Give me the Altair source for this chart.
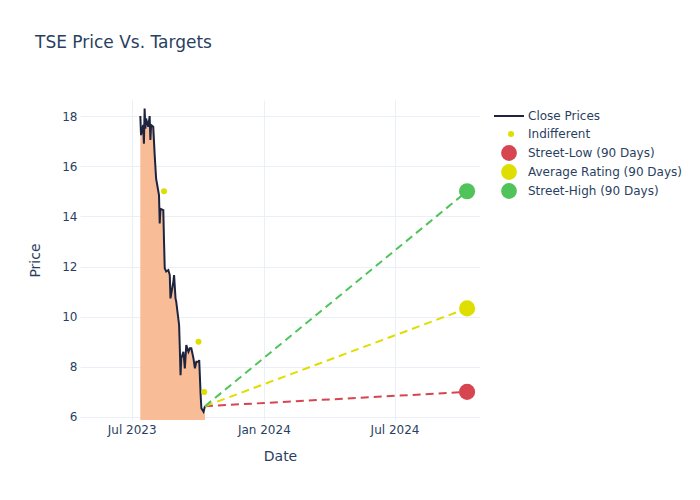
import altair as alt
import pandas as pd

# ---- data ----
close_dates = ["2023-07-13", "2023-07-14", "2023-07-17", "2023-07-18", "2023-07-19", "2023-07-20",
               "2023-07-21", "2023-07-24", "2023-07-26", "2023-07-27", "2023-07-28", "2023-07-31",
               "2023-08-02", "2023-08-04", "2023-08-08", "2023-08-09", "2023-08-10", "2023-08-14",
               "2023-08-15", "2023-08-16", "2023-08-18", "2023-08-21", "2023-08-23", "2023-08-24",
               "2023-08-28", "2023-08-29", "2023-08-31", "2023-09-01", "2023-09-05", "2023-09-06",
               "2023-09-07", "2023-09-08", "2023-09-11", "2023-09-13", "2023-09-15", "2023-09-18",
               "2023-09-20", "2023-09-22", "2023-09-25", "2023-09-27", "2023-09-29", "2023-10-02",
               "2023-10-03", "2023-10-05", "2023-10-06", "2023-10-09", "2023-10-11"]
close_prices = [18.0, 17.24, 17.64, 16.9, 18.3, 17.5, 17.9, 17.57, 18.0, 17.05, 17.64, 17.57,
                16.45, 15.5, 14.85, 13.72, 14.3, 14.25, 13.0, 11.93, 11.8, 11.86, 11.66, 10.73,
                11.4, 11.66, 10.73, 10.6, 9.67, 8.74, 7.67, 8.34, 8.6, 7.94, 8.87, 8.6,
                8.74, 8.74, 8.34, 7.94, 8.2, 8.2, 8.27, 6.88, 6.35, 6.21, 6.43]

rating_dates = ["2023-08-15", "2023-10-02", "2023-10-10"]
rating_prices = [15.0, 9.0, 7.0]
rating_label = "Indifferent"

target_labels = ["Street-Low (90 Days)", "Average Rating (90 Days)", "Street-High (90 Days)"]
target_values = [7.0, 10.33, 15.0]
target_date = "2024-10-10"

# ---- tables ----
close_df = pd.DataFrame({"date": close_dates, "price": close_prices, "series": "Close Prices"})
rating_df = pd.DataFrame({"date": rating_dates, "price": rating_prices, "label": rating_label})
target_df = pd.DataFrame({"date": [target_date] * len(target_values), "price": target_values,
                          "label": target_labels})
dash_rows = []
for lab, val in zip(target_labels, target_values):
    dash_rows.append({"date": close_dates[-1], "price": close_prices[-1], "label": lab})
    dash_rows.append({"date": target_date, "price": val, "label": lab})
dash_df = pd.DataFrame(dash_rows)

TEXT = "#2a3f5f"
FONT = "DejaVu Sans"
RED, YELLOW, GREEN = "#d64550", "#dede00", "#50c35a"
target_colors = [RED, YELLOW, GREEN]
dash_colors = dict(zip(target_labels, target_colors))

x_scale = alt.Scale(type="utc", domain=[alt.DateTime(year=2023, month=4, date=20, utc=True),
                                        alt.DateTime(year=2024, month=10, date=28, utc=True)], nice=False)
y_scale = alt.Scale(domain=[5.88, 18.64], nice=False, zero=False)

x_axis = alt.Axis(title="Date", format="%b %Y",
                  values=[alt.DateTime(year=2023, month=7, date=1, utc=True),
                          alt.DateTime(year=2024, month=1, date=1, utc=True),
                          alt.DateTime(year=2024, month=7, date=1, utc=True)],
                  labelPadding=4, titlePadding=14)
y_axis = alt.Axis(title="Price", values=[6, 8, 10, 12, 14, 16, 18], labelPadding=3, titlePadding=19)

X = alt.X("date:T", scale=x_scale, axis=x_axis)
Y = alt.Y("price:Q", scale=y_scale, axis=y_axis)

area = alt.Chart(close_df).mark_area(color="#f8bc96", clip=True).encode(
    x=X, y=Y, y2=alt.datum(0))

line = alt.Chart(close_df).mark_line(strokeWidth=2, clip=True).encode(
    x=X, y=Y,
    stroke=alt.Stroke("series:N", scale=alt.Scale(domain=["Close Prices"], range=["#1c2440"]),
                      legend=alt.Legend(title=None, symbolType="stroke", symbolSize=900,
                                        symbolStrokeWidth=2, orient="none", legendX=413, legendY=0,
                                        labelOffset=3)))

dash_layers = []
for lab in target_labels:
    dash_layers.append(
        alt.Chart(dash_df).transform_filter(alt.datum.label == lab)
        .mark_line(strokeDash=[8, 5], strokeWidth=2, color=dash_colors[lab])
        .encode(x=X, y=Y))

rating_pts = alt.Chart(rating_df).mark_circle(opacity=1, size=36).encode(
    x=X, y=Y,
    fill=alt.Fill("label:N", scale=alt.Scale(domain=[rating_label], range=[YELLOW]),
                  legend=alt.Legend(title=None, orient="none", legendX=425, legendY=28,
                                    symbolSize=36, symbolType="circle", symbolOpacity=1,
                                    labelOffset=11)))
target_pts = alt.Chart(target_df).mark_circle(opacity=1, size=260).encode(
    x=X, y=Y,
    color=alt.Color("label:N", scale=alt.Scale(domain=target_labels, range=target_colors),
                    legend=alt.Legend(title=None, orient="none", legendX=420, legendY=44,
                                      symbolSize=250, symbolType="circle", symbolOpacity=1,
                                      labelOffset=10, rowPadding=2)))

chart = alt.layer(area, line, *dash_layers, rating_pts, target_pts).properties(
    width=400, height=320,
    title=alt.TitleParams("TSE Price Vs. Targets", anchor="start", frame="group", dx=-45, offset=48,
                          fontSize=17, font=FONT, fontWeight="normal", color=TEXT),
    autosize=alt.AutoSizeParams(type="none"),
    padding={"left": 72, "top": 92, "right": 212, "bottom": 72},
).configure_view(stroke=None).configure_axis(
    domain=False, ticks=False, grid=True, gridColor="#ebf0f8", gridWidth=1,
    labelColor=TEXT, titleColor=TEXT, labelFont=FONT, titleFont=FONT,
    labelFontSize=12, titleFontSize=14, titleFontWeight="normal",
).configure_legend(
    labelColor=TEXT, labelFont=FONT, labelFontSize=12, padding=0,
)

chart.save("out.html", embed_options={"renderer": "svg", "actions": False})
